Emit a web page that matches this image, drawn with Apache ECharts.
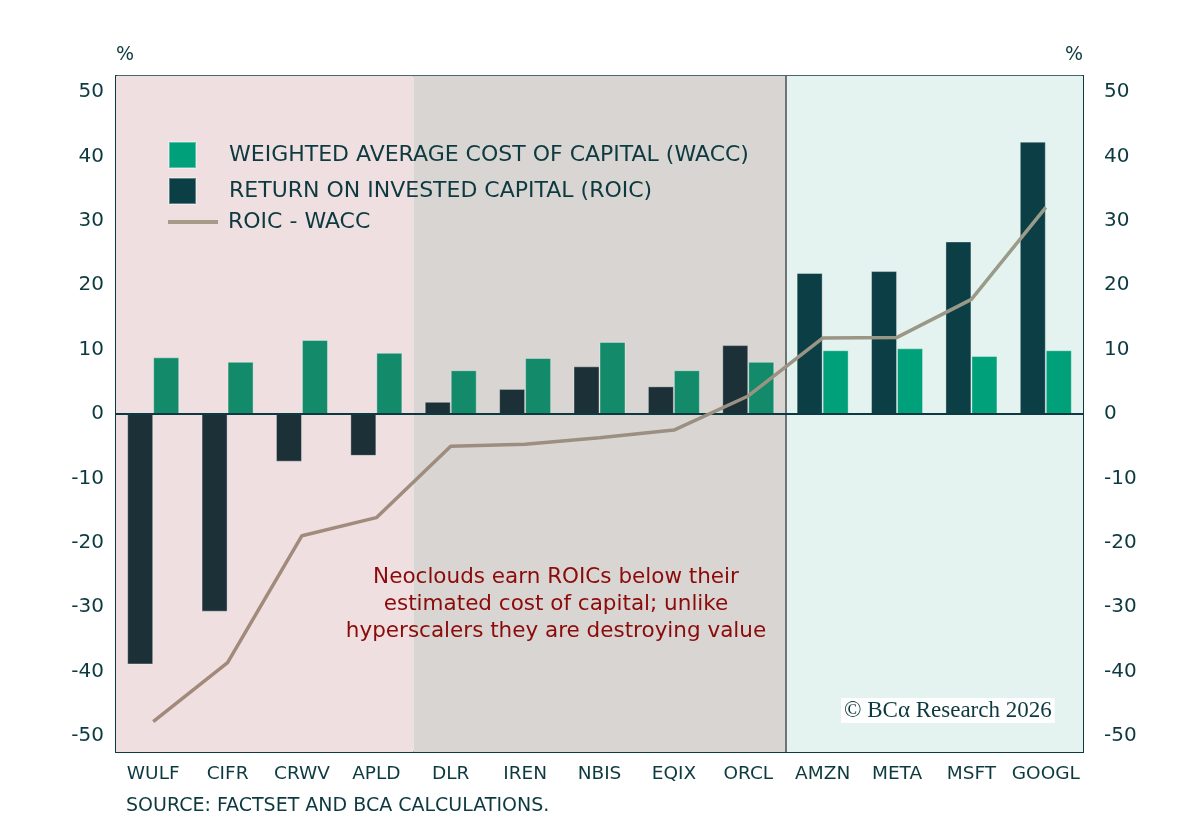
<!DOCTYPE html>
<html>
<head>
<meta charset="utf-8">
<script src="https://cdn.jsdelivr.net/npm/echarts@6/dist/echarts.min.js"></script>
<style>
  html, body { margin: 0; padding: 0; background: #fff; }
  #main { width: 1200px; height: 830px; }
</style>
</head>
<body>
<div id="main"></div>
<script>
// data
var tickers = ['WULF', 'CIFR', 'CRWV', 'APLD', 'DLR', 'IREN', 'NBIS', 'EQIX', 'ORCL', 'AMZN', 'META', 'MSFT', 'GOOGL'];
var roic = [-38.9, -30.7, -7.4, -6.5, 1.9, 3.9, 7.4, 4.3, 10.7, 21.9, 22.2, 26.8, 42.3];
var wacc = [8.8, 8.1, 11.5, 9.5, 6.8, 8.7, 11.2, 6.8, 8.1, 9.9, 10.2, 9.0, 9.9];
var spread = [-47.8, -38.6, -18.9, -16.1, -5.0, -4.7, -3.7, -2.5, 2.8, 11.8, 11.9, 17.8, 32.1];
var yTicks = [-50, -40, -30, -20, -10, 0, 10, 20, 30, 40, 50];

var ink = '#0d3a40';
var font = '"DejaVu Sans"';
var nHyper = 4; // last 4 tickers are hyperscalers

var myChart = echarts.init(document.getElementById('main'));

function colored(vals, dim, bright) {
	return vals.map(function (v, i) {
		return { value: v, itemStyle: { color: i < tickers.length - nHyper ? dim : bright } };
	});
}

var yAxisBase = {
	type: 'value',
	min: -52.5,
	max: 52.5,
	splitLine: { show: false },
	axisLine: { show: true, lineStyle: { color: ink, width: 2 } },
	axisTick: { show: true, inside: true, length: 17, customValues: yTicks, lineStyle: { color: ink, width: 2 } }
};

option = {
	backgroundColor: '#fff',
	animation: false,
	grid: {
		left: 116, right: 117, top: 76, bottom: 78,
		show: true, borderColor: ink, borderWidth: 1.5, backgroundColor: 'transparent'
	},
	legend: [{
		orient: 'vertical',
		left: 168,
		top: 141,
		padding: 0,
		itemWidth: 27,
		itemHeight: 26,
		itemGap: 8,
		icon: 'rect',
		data: ['WEIGHTED AVERAGE COST OF CAPITAL (WACC)', 'RETURN ON INVESTED CAPITAL (ROIC)'],
		textStyle: { color: ink, fontFamily: font, fontSize: 22, lineHeight: 26, padding: [0, 0, 0, 28] }
	}, {
		left: 168,
		top: 209,
		padding: 0,
		itemWidth: 50,
		itemHeight: 4,
		data: [{ name: 'ROIC - WACC', icon: 'rect' }],
		textStyle: { color: ink, fontFamily: font, fontSize: 22, lineHeight: 26, padding: [0, 0, 0, 5] }
	}],
	xAxis: [{
		type: 'category',
		data: tickers,
		position: 'bottom',
		axisLine: { onZero: false, lineStyle: { color: ink, width: 2 } },
		axisTick: { inside: true, length: 17, lineStyle: { color: ink, width: 3 } },
		axisLabel: { color: ink, fontFamily: font, fontSize: 18.5, margin: 13, interval: 0 }
	}, {
		type: 'value',
		min: 0,
		max: tickers.length,
		show: false
	}],
	yAxis: [
		Object.assign({}, yAxisBase, {
			position: 'left',
			name: '%',
			nameLocation: 'end',
			nameGap: 11,
			nameTextStyle: { color: ink, fontFamily: font, fontSize: 19, align: 'left' },
			axisLabel: { color: ink, fontFamily: font, fontSize: 20, margin: 12, customValues: yTicks }
		}),
		Object.assign({}, yAxisBase, {
			position: 'right',
			name: '%',
			nameLocation: 'end',
			nameGap: 11,
			nameTextStyle: { color: ink, fontFamily: font, fontSize: 19, align: 'right' },
			axisLabel: { color: ink, fontFamily: font, fontSize: 20, margin: 21, customValues: yTicks }
		})
	],
	series: [
		{
			// background bands and divider
			type: 'line',
			xAxisIndex: 1,
			yAxisIndex: 0,
			data: [],
			z: 0,
			silent: true,
			markArea: {
				silent: true,
				data: [
					[{ xAxis: 0, itemStyle: { color: '#efdfe0' } }, { xAxis: 4 }],
					[{ xAxis: 4, itemStyle: { color: '#d9d5d2' } }, { xAxis: 9 }],
					[{ xAxis: 9, itemStyle: { color: '#e4f3f0' } }, { xAxis: 13 }]
				]
			},
			markLine: {
				silent: true,
				symbol: 'none',
				label: { show: false },
				lineStyle: { color: '#4a4a4a', width: 1.5, type: 'solid' },
				data: [{ xAxis: 9 }]
			}
		},
		{
			name: 'RETURN ON INVESTED CAPITAL (ROIC)',
			type: 'bar',
			barWidth: 26,
			barGap: '0%',
			itemStyle: { color: '#0c3f45', borderColor: 'rgba(255,255,255,0.35)', borderWidth: 1 },
			data: colored(roic, '#1c3037', '#0c3f45'),
			markLine: {
				silent: true,
				symbol: 'none',
				label: { show: false },
				lineStyle: { color: ink, width: 2, type: 'solid' },
				data: [{ yAxis: 0 }]
			}
		},
		{
			name: 'WEIGHTED AVERAGE COST OF CAPITAL (WACC)',
			type: 'bar',
			barWidth: 26,
			barGap: '0%',
			itemStyle: { color: '#00a07a', borderColor: 'rgba(255,255,255,0.35)', borderWidth: 1 },
			data: colored(wacc, '#138a6a', '#00a07a')
		},
		{
			name: 'ROIC - WACC',
			type: 'line',
			data: spread,
			symbol: 'none',
			z: 5,
			lineStyle: {
				width: 3.5,
				color: new echarts.graphic.LinearGradient(0, 0, 1, 0, [
					{ offset: 0, color: '#a3897a' },
					{ offset: 0.6, color: '#9a9082' },
					{ offset: 1, color: '#9a9c8a' }
				])
			},
			itemStyle: { color: '#a89a88' }
		}
	],
	graphic: [
		{
			type: 'text',
			z: 100,
			x: 556,
			y: 564,
			style: {
				text: 'Neoclouds earn ROICs below their\nestimated cost of capital; unlike\nhyperscalers they are destroying value',
				fill: '#8b0a0a',
				font: '21.5px "DejaVu Sans"',
				align: 'center',
				verticalAlign: 'top',
				lineHeight: 27
			}
		},
		{
			type: 'text',
			z: 100,
			x: 841,
			y: 698,
			style: {
				text: '\u00a9 BC\u03b1 Research 2026',
				fill: ink,
				font: '23px "Liberation Serif"',
				backgroundColor: '#fff',
				padding: [1, 3, 1, 3]
			}
		},
		{
			type: 'text',
			z: 100,
			x: 126,
			y: 797,
			style: {
				text: 'SOURCE: FACTSET AND BCA CALCULATIONS.',
				fill: ink,
				font: '19px "DejaVu Sans"'
			}
		}
	]
};

myChart.setOption(option);

window.addEventListener('resize', function () {
	myChart.resize();
});
</script>
</body>
</html>
